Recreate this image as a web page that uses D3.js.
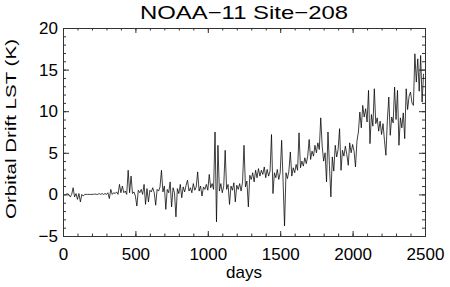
<!DOCTYPE html>
<html>
<head>
<meta charset="utf-8">
<script src="https://cdn.jsdelivr.net/npm/d3@7"></script>
<style>
  body { margin: 0; background: #fff; }
  svg { display: block; }
  text { font-family: "Liberation Sans", Arial, Helvetica, sans-serif; fill: #000; }
</style>
</head>
<body>
<svg id="chart"></svg>
<script>
const title = 'NOAA\u221211 Site\u2212208';
const xLabel = 'days';
const yLabel = 'Orbital Drift LST (K)';
const xTicks = [0, 500, 1000, 1500, 2000, 2500];
const yTicks = [-5, 0, 5, 10, 15, 20];
const xMinorTicks = d3.range(0, 2501, 100);
const yMinorTicks = d3.range(-5, 20.5, 1);

// one value every 10 days, starting at day 20
const firstDay = 20;
const dayStep = 10;
const drift = [
  0.0, 0.1, 0.0, -0.3, 0.0, 0.8, -0.3, 0.1, -0.6,
  0.1, -0.9, 0.0, -0.2, 0.0, 0.0, 0.0, 0.0, 0.0, 0.0,
  0.0, 0.05, 0.0, 0.0, 0.1, 0.0, 0.1, 0.0, 0.1, 0.0,
  0.2, -0.5, 0.6, 0.0, 0.2, 0.1, 0.3, 0.0, 1.2, 0.2,
  1.0, 0.2, 0.4, 0.0, 2.9, 0.2, 2.2, 0.1, 0.3, -0.2,
  -1.4, 0.5, 0.2, 0.6, 0.0, 1.2, -1.2, 0.7, -0.9, 0.5,
  0.3, 0.8, 0.2, -1.3, 0.6, 0.4, 0.9, 2.9, 0.3, 1.0,
  -1.8, 0.6, 0.2, 1.5, -1.5, 0.8, 0.2, -2.7, 0.7, 0.1,
  1.2, -0.4, 0.9, 0.3, 1.1, 1.7, 0.4, 0.8, 0.2, 1.3,
  0.5, 0.9, 2.7, 0.4, 1.0, -0.2, 0.9, 0.6, 1.2, 0.5,
  2.4, 0.8, 1.3, 0.6, 7.5, -3.3, 5.9, 0.4, 1.3, 0.2,
  1.0, 5.3, 0.6, 1.2, -1.2, 1.0, 0.5, 1.4, -0.9, 1.1,
  0.6, 1.3, 0.4, 1.5, 5.9, 0.9, 1.6, -1.5, 2.3, 1.8,
  2.6, 1.5, 2.9, 2.0, 3.1, 2.2, 2.9, 2.4, 3.3, 2.0,
  3.0, 2.2, 2.8, 7.2, 0.1, 2.6, 2.0, 3.0, 1.8, 2.6,
  6.5, 1.5, -3.8, 2.6, 1.9, 2.8, 5.1, 2.2, 3.2, 2.6,
  3.6, 2.9, 7.4, 3.2, 4.0, 3.4, 4.4, 3.7, 4.6, 6.6,
  4.2, 5.2, 4.6, 5.9, 5.0, 6.2, 5.4, 9.2, 5.8, 4.0,
  5.0, 1.5, 7.5, 3.5, -0.3, 4.5, 2.8, 5.9, 4.5, 5.4,
  7.9, 2.9, 5.3, 4.6, 5.8, 4.8, 3.5, 6.2, 5.0, 6.0,
  5.2, 3.3, 6.4, 7.5, 9.9, 8.0, 10.7, 9.3, 10.3, 8.7,
  12.5, 6.1, 9.6, 8.2, 12.7, 8.5, 9.2, 7.6, 8.8, 7.2,
  8.5, 6.5, 4.7, 8.9, 11.7, 7.1, 9.3, 8.6, 12.9, 9.0,
  12.5, 5.9, 9.2, 8.0, 9.8, 6.7, 12.7, 10.2, 11.8, 12.3,
  11.0, 10.7, 16.9, 13.5, 16.3, 12.4, 16.7, 11.1, 14.5
];

const width = 450;
const height = 287;
const margin = { top: 28, right: 25, bottom: 51, left: 63 };

const svg = d3.select('#chart')
    .attr('width', width)
    .attr('height', height);

const x = d3.scaleLinear()
    .domain([0, 2500])
    .range([margin.left, width - margin.right]);

const y = d3.scaleLinear()
    .domain([-5, 20])
    .range([height - margin.bottom, margin.top]);

const points = drift.map((v, i) => ({ day: firstDay + i * dayStep, value: v }));

// box with inward ticks on all four sides, IDL style
function addAxis(axis, transform) {
    const g = svg.append('g')
        .attr('transform', transform)
        .style('font-family', '"Liberation Sans", Arial, sans-serif')
        .call(axis);
    g.select('.domain').remove();
    g.selectAll('line').attr('stroke', '#333');
    return g;
}

const atBottom = `translate(0,${y(-5)})`;
const atTop = `translate(0,${y(20)})`;
const atLeft = `translate(${x(0)},0)`;
const atRight = `translate(${x(2500)},0)`;
const fmt = d3.format('d');

addAxis(d3.axisBottom(x).tickValues(xMinorTicks).tickSize(-2.5).tickFormat(''), atBottom);
addAxis(d3.axisTop(x).tickValues(xMinorTicks).tickSize(-2.5).tickFormat(''), atTop);
addAxis(d3.axisLeft(y).tickValues(yMinorTicks).tickSize(-3).tickFormat(''), atLeft);
addAxis(d3.axisRight(y).tickValues(yMinorTicks).tickSize(-3).tickFormat(''), atRight);

addAxis(d3.axisBottom(x).tickValues(xTicks).tickSize(-5).tickPadding(12).tickFormat(fmt), atBottom)
    .selectAll('text').attr('font-size', 17);
addAxis(d3.axisTop(x).tickValues(xTicks).tickSize(-5).tickFormat(''), atTop);
addAxis(d3.axisLeft(y).tickValues(yTicks).tickSize(-6).tickPadding(5), atLeft)
    .selectAll('text').attr('font-size', 17);
addAxis(d3.axisRight(y).tickValues(yTicks).tickSize(-6).tickFormat(''), atRight);

svg.append('rect')
    .attr('x', x(0) + 0.5)
    .attr('y', y(20) + 0.5)
    .attr('width', x(2500) - x(0))
    .attr('height', y(-5) - y(20))
    .attr('fill', 'none')
    .attr('stroke', '#333')
    .attr('stroke-width', 1);

const line = d3.line()
    .x(d => x(d.day))
    .y(d => y(d.value));

svg.append('path')
    .datum(points)
    .attr('fill', 'none')
    .attr('stroke', '#000')
    .attr('stroke-width', 0.75)
    .attr('d', line);

// IDL's vector font is wider than Arial, so stretch the glyphs
svg.append('text')
    .attr('x', 244)
    .attr('y', 18.5)
    .attr('text-anchor', 'middle')
    .attr('font-size', 18.5)
    .attr('textLength', 208)
    .attr('lengthAdjust', 'spacingAndGlyphs')
    .text(title);

svg.append('text')
    .attr('x', 244)
    .attr('y', 278)
    .attr('text-anchor', 'middle')
    .attr('font-size', 17)
    .text(xLabel);

svg.append('text')
    .attr('transform', 'translate(16,129) rotate(-90)')
    .attr('text-anchor', 'middle')
    .attr('font-size', 15.5)
    .attr('textLength', 180)
    .attr('lengthAdjust', 'spacingAndGlyphs')
    .text(yLabel);
</script>
</body>
</html>
